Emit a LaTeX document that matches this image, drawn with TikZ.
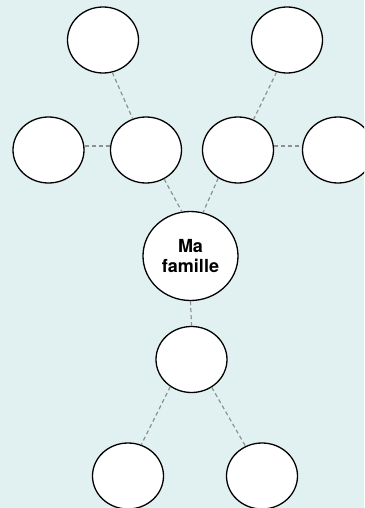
\documentclass[tikz,border=0pt]{standalone}
\usepackage{fontspec}
\setmainfont{TeX Gyre Heros}
\usetikzlibrary{shapes.geometric}
\definecolor{fond}{HTML}{E1F1F1}
\definecolor{trait}{HTML}{909090}
\tikzset{
  bulle/.style={ellipse, draw=black, line width=1.3pt, fill=white,
    minimum width=71pt, minimum height=66pt, inner sep=0pt},
  lien/.style={draw=trait, line width=1.2pt, dash pattern=on 4pt off 3pt},
}
\begin{document}
\begin{tikzpicture}[x=1pt, y=-1pt]
\fill[fond] (0,0) rectangle (364,508);
\useasboundingbox (0,0) rectangle (364,508);
\clip (0,0) rectangle (364,508);
\node[bulle, minimum width=95pt, minimum height=89pt, align=center,
  font=\bfseries\fontsize{18}{20}\selectfont] (moi) at (190.5,256) {Ma\\famille};
\node[bulle] (pg) at (146,150) {};
\node[bulle] (pgg) at (48.5,150) {};
\node[bulle] (pgh) at (103,40) {};
\node[bulle] (pd) at (238,150) {};
\node[bulle] (pdd) at (338,150) {};
\node[bulle] (pdh) at (287,40) {};
\node[bulle] (bas) at (191.5,359.5) {};
\node[bulle] (basg) at (128,476) {};
\node[bulle] (basd) at (262,476) {};
% liens
\draw[lien] (pgh.-74) -- (pg.113);
\draw[lien] (pdh.-108) -- (pd.63);
\draw[lien] (pgg.east |- 0,146) -- (pg.west |- 0,146);
\draw[lien] (pd.east |- 0,146) -- (pdd.west |- 0,146);
\draw[lien] (pg.-58) -- (moi.101);
\draw[lien] (pd.-125) -- (moi.74);
\draw[lien] (moi.south) -- (bas.north);
\draw[lien] (bas.-128) -- (basg.67);
\draw[lien] (bas.-54) -- (basd.119);
\end{tikzpicture}
\end{document}
